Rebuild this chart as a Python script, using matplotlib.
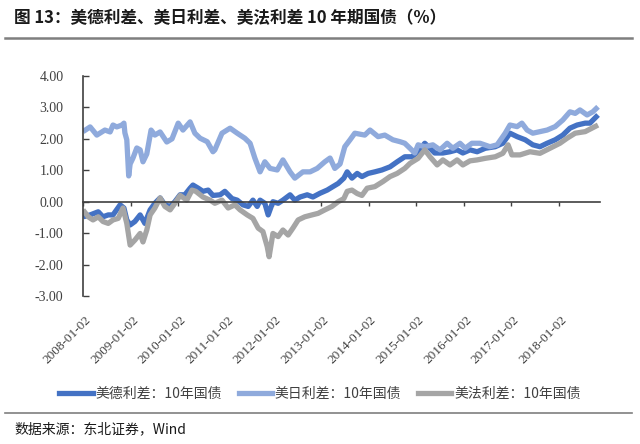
import matplotlib
matplotlib.use("Agg")
import matplotlib.pyplot as plt
from matplotlib.lines import Line2D
import matplotlib.transforms as mtransforms

plt.rcParams['font.family'] = ['Noto Sans CJK SC', 'DejaVu Sans']

# ---- data (decimal years, %) ----
jp_t = [2008.00, 2008.15, 2008.29, 2008.46, 2008.57, 2008.63, 2008.71, 2008.82, 2008.86, 2008.88,
        2008.92, 2008.96, 2008.99, 2009.05, 2009.13, 2009.20, 2009.26, 2009.34, 2009.43, 2009.51,
        2009.62, 2009.76, 2009.87, 2010.00, 2010.10, 2010.25, 2010.35, 2010.46, 2010.61, 2010.73,
        2010.77, 2010.92, 2011.09, 2011.24, 2011.40, 2011.51, 2011.61, 2011.72, 2011.82, 2011.93,
        2012.08, 2012.20, 2012.35, 2012.45, 2012.62, 2012.77, 2012.92, 2013.08, 2013.19, 2013.29,
        2013.40, 2013.50, 2013.61, 2013.71, 2013.92, 2014.03, 2014.20, 2014.34, 2014.51, 2014.66,
        2014.76, 2014.87, 2014.97, 2015.04, 2015.18, 2015.35, 2015.50, 2015.65, 2015.77, 2015.92,
        2016.03, 2016.17, 2016.34, 2016.55, 2016.70, 2016.87, 2016.97, 2017.12, 2017.22, 2017.33,
        2017.45, 2017.60, 2017.75, 2017.92, 2018.08, 2018.23, 2018.34, 2018.44, 2018.59, 2018.71,
        2018.82]
jp_v = [2.23, 2.38, 2.12, 2.28, 2.22, 2.44, 2.38, 2.44, 2.50, 2.19,
        1.97, 0.82, 1.20, 1.39, 1.71, 1.65, 1.27, 1.52, 2.28, 2.12,
        2.22, 1.90, 2.00, 2.50, 2.28, 2.54, 2.18, 2.02, 1.91, 1.59,
        1.65, 2.18, 2.34, 2.18, 2.02, 1.86, 1.39, 0.95, 1.27, 1.06,
        1.01, 1.33, 0.95, 0.75, 0.95, 0.95, 1.06, 1.27, 1.39, 1.06,
        1.20, 1.75, 1.97, 2.18, 2.12, 2.28, 2.07, 2.12, 1.97, 1.91,
        1.86, 1.70, 1.55, 1.81, 1.75, 1.81, 1.65, 1.86, 1.70, 1.86,
        1.70, 1.86, 1.86, 1.75, 1.81, 2.18, 2.44, 2.39, 2.50, 2.28,
        2.18, 2.23, 2.28, 2.39, 2.60, 2.86, 2.81, 2.92, 2.76, 2.86,
        3.02]

de_t = [2008.00, 2008.15, 2008.32, 2008.42, 2008.53, 2008.63, 2008.78, 2008.86, 2008.92, 2008.99,
        2009.09, 2009.20, 2009.30, 2009.41, 2009.51, 2009.62, 2009.72, 2009.83, 2009.93, 2010.04,
        2010.14, 2010.25, 2010.31, 2010.42, 2010.52, 2010.63, 2010.73, 2010.88, 2010.98, 2011.13,
        2011.24, 2011.36, 2011.47, 2011.57, 2011.66, 2011.72, 2011.82, 2011.89, 2011.99, 2012.10,
        2012.20, 2012.35, 2012.45, 2012.56, 2012.71, 2012.83, 2012.98, 2013.13, 2013.25, 2013.36,
        2013.48, 2013.55, 2013.65, 2013.76, 2013.86, 2013.99, 2014.13, 2014.28, 2014.45, 2014.60,
        2014.76, 2014.91, 2015.04, 2015.18, 2015.29, 2015.39, 2015.56, 2015.71, 2015.86, 2015.98,
        2016.13, 2016.28, 2016.45, 2016.66, 2016.82, 2016.97, 2017.12, 2017.29, 2017.45, 2017.60,
        2017.75, 2017.92, 2018.08, 2018.23, 2018.38, 2018.55, 2018.65, 2018.82]
de_v = [-0.48, -0.42, -0.32, -0.48, -0.42, -0.42, -0.10, -0.20, -0.58, -0.74,
        -0.63, -0.42, -0.69, -0.26, -0.05, 0.12, -0.10, -0.15, 0.00, 0.22,
        0.22, 0.43, 0.53, 0.43, 0.33, 0.37, 0.20, 0.22, 0.33, 0.10,
        0.05, -0.10, -0.15, 0.05, -0.15, 0.05, -0.05, -0.42, 0.00, -0.05,
        0.05, 0.22, 0.05, 0.15, 0.22, 0.15, 0.27, 0.37, 0.48, 0.58,
        0.75, 0.95, 0.75, 0.90, 0.80, 0.90, 0.95, 1.01, 1.11, 1.27,
        1.43, 1.43, 1.59, 1.86, 1.70, 1.55, 1.55, 1.59, 1.65, 1.55,
        1.65, 1.59, 1.70, 1.75, 1.86, 2.18, 2.07, 1.97, 1.81, 1.75,
        1.86, 1.97, 2.12, 2.34, 2.44, 2.50, 2.50, 2.76]

fr_t = [2008.00, 2008.11, 2008.21, 2008.32, 2008.42, 2008.53, 2008.63, 2008.74, 2008.84, 2008.92,
        2008.99, 2009.09, 2009.20, 2009.26, 2009.34, 2009.41, 2009.51, 2009.62, 2009.72, 2009.83,
        2009.93, 2010.04, 2010.18, 2010.29, 2010.37, 2010.52, 2010.67, 2010.77, 2010.92, 2011.05,
        2011.19, 2011.30, 2011.45, 2011.57, 2011.68, 2011.78, 2011.87, 2011.91, 2011.99, 2012.10,
        2012.20, 2012.31, 2012.41, 2012.52, 2012.66, 2012.81, 2012.94, 2013.08, 2013.23, 2013.36,
        2013.48, 2013.55, 2013.65, 2013.76, 2013.86, 2013.97, 2014.13, 2014.30, 2014.45, 2014.60,
        2014.76, 2014.87, 2015.04, 2015.18, 2015.29, 2015.44, 2015.56, 2015.71, 2015.86, 2015.98,
        2016.13, 2016.28, 2016.45, 2016.66, 2016.82, 2016.93, 2017.01, 2017.18, 2017.39, 2017.60,
        2017.81, 2018.02, 2018.17, 2018.34, 2018.55, 2018.82]
fr_v = [-0.26, -0.48, -0.58, -0.48, -0.63, -0.69, -0.58, -0.53, -0.20, -0.69,
        -1.38, -1.22, -1.01, -1.28, -0.90, -0.42, -0.20, 0.12, -0.15, -0.26,
        -0.05, 0.20, 0.05, 0.37, 0.33, 0.15, 0.05, -0.05, 0.05, -0.20,
        -0.10, -0.26, -0.42, -0.53, -0.84, -0.95, -1.43, -1.75, -1.01, -1.11,
        -0.90, -1.06, -0.84, -0.58, -0.48, -0.42, -0.37, -0.26, -0.15, 0.00,
        0.10, 0.33, 0.37, 0.26, 0.20, 0.43, 0.48, 0.64, 0.80, 0.90,
        1.06, 1.22, 1.38, 1.65, 1.43, 1.17, 1.33, 1.17, 1.33, 1.17,
        1.30, 1.33, 1.38, 1.43, 1.54, 1.81, 1.49, 1.49, 1.59, 1.54,
        1.70, 1.86, 2.02, 2.18, 2.23, 2.44]

series_names = ['美德利差：10年国债', '美日利差：10年国债', '美法利差：10年国债']
series_colors = ['#4472C4', '#8FAADC', '#A5A5A5']
tick_years = [2008, 2009, 2010, 2011, 2012, 2013, 2014, 2015, 2016, 2017, 2018]
tick_labels = ['2008-01-02', '2009-01-02', '2010-01-02', '2011-01-02', '2012-01-02',
               '2013-01-02', '2014-01-02', '2015-01-02', '2016-01-02', '2017-01-02',
               '2018-01-02']
y_ticks = [4, 3, 2, 1, 0, -1, -2, -3]

fig = plt.figure(figsize=(6.4, 4.44), dpi=100)
ax = fig.add_axes([83/640, 1 - 296/444, 517/640, 220/444])

for t, v, c in zip([de_t, jp_t, fr_t], [de_v, jp_v, fr_v], series_colors):
    ax.plot(t, v, color=c, lw=3.8, solid_joinstyle='round', solid_capstyle='butt')

ax.set_xlim(2008.0, 2008.0 + 517/47.6)
ax.set_ylim(-3, 4)

# y axis
ax.set_yticks(y_ticks)
ax.set_yticklabels([f'{v:.2f}' for v in y_ticks], fontfamily='Liberation Serif',
                   fontsize=10, color='#404040')
ax.tick_params(axis='y', direction='in', length=4, width=1, color='#404040', pad=14)
for s in ['top', 'right']:
    ax.spines[s].set_visible(False)
ax.spines['left'].set_color('#404040')
ax.spines['left'].set_linewidth(1.2)

# x axis line at zero
ax.spines['bottom'].set_position(('data', 0))
ax.spines['bottom'].set_color('#404040')
ax.spines['bottom'].set_linewidth(1.2)
ax.set_xticks(tick_years)
ax.tick_params(axis='x', direction='out', length=3, width=1, color='#404040', labelbottom=False)

sec = ax.secondary_xaxis(0)
sec.set_xticks(tick_years)
sec.set_xticklabels(tick_labels, rotation=45, ha='right', va='center',
                    rotation_mode='anchor', fontfamily='Liberation Serif',
                    fontsize=9.5, color='#404040')
sec.tick_params(length=0, pad=10)
sec.spines['bottom'].set_visible(False)
offset = mtransforms.ScaledTranslation(0.06, -0.08, fig.dpi_scale_trans)
for lbl in sec.get_xticklabels():
    lbl.set_transform(lbl.get_transform() + offset)

# title and rules
fig.text(14/640, 1 - 18/444, '图 13：美德利差、美日利差、美法利差 10 年期国债（%）',
         fontsize=12, fontweight='bold', va='center', ha='left', color='#1a1a1a')
fig.add_artist(Line2D([5/640, 632/640], [1 - 38/444, 1 - 38/444], color='#7f7f7f', lw=1.8))
fig.add_artist(Line2D([5/640, 632/640], [1 - 413/444, 1 - 413/444], color='#7f7f7f', lw=1.2))
fig.text(14/640, 1 - 429/444, '数据来源：东北证券，Wind', fontsize=10, va='center', ha='left',
         color='#1a1a1a')

handles = [Line2D([], [], color=c, lw=3.8) for c in series_colors]
fig.legend(handles, series_names, loc='center', bbox_to_anchor=(0.5, 1 - 394/444), ncol=3,
           frameon=False, fontsize=10, handlelength=2.4, handletextpad=0.2, columnspacing=1.2,
           labelcolor='#404040')

fig.savefig('out.png', dpi=100)
